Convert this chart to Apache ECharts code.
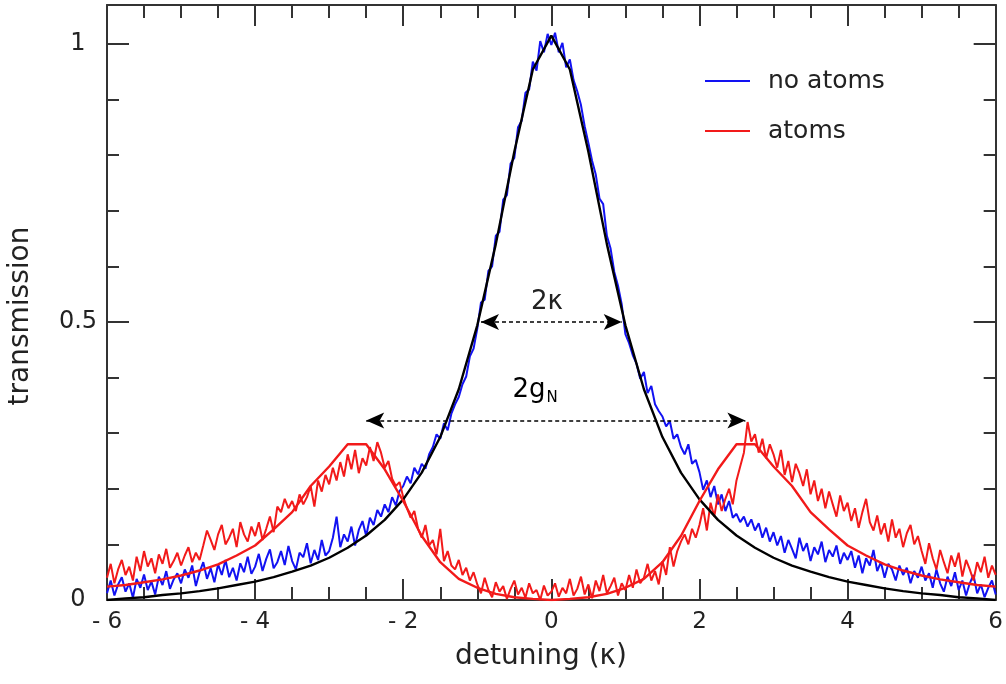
<!DOCTYPE html>
<html>
<head>
<meta charset="utf-8">
<script src="https://cdn.jsdelivr.net/npm/echarts@6/dist/echarts.min.js"></script>
<style>
  html, body { margin: 0; padding: 0; background: #fff; }
  #chart { width: 1006px; height: 684px; }
</style>
</head>
<body>
<div id="chart"></div>
<script>
// Measured cavity transmission vs. detuning (units of kappa), sampled every 0.05 from -6 to 6
const dataStart = -6;
const dataStep = 0.05;

const noAtoms = [
  0.012, 0.035, 0.008, 0.028, 0.041, 0.015, 0.030, 0.004, 0.038, 0.022, 0.046, 0.018, 0.033, 0.010, 0.042, 0.027, 0.052, 0.020, 0.037, 0.048,
  0.030, 0.055, 0.040, 0.062, 0.025, 0.050, 0.068, 0.038, 0.057, 0.032, 0.064, 0.045, 0.072, 0.041, 0.058, 0.035, 0.066, 0.050, 0.078, 0.047,
  0.060, 0.083, 0.052, 0.074, 0.091, 0.057, 0.068, 0.088, 0.063, 0.097, 0.070, 0.055, 0.085, 0.077, 0.102, 0.066, 0.090, 0.072, 0.108, 0.080,
  0.088, 0.112, 0.150, 0.095, 0.118, 0.105, 0.132, 0.098, 0.126, 0.142, 0.115, 0.148, 0.135, 0.162, 0.150, 0.172, 0.158, 0.185, 0.170, 0.196,
  0.205, 0.222, 0.210, 0.238, 0.226, 0.245, 0.236, 0.262, 0.275, 0.298, 0.290, 0.318, 0.305, 0.335, 0.352, 0.365, 0.388, 0.402, 0.438, 0.452,
  0.488, 0.535, 0.540, 0.592, 0.600, 0.655, 0.662, 0.720, 0.728, 0.785, 0.795, 0.850, 0.862, 0.912, 0.918, 0.968, 0.952, 1.005, 0.985, 1.018,
  0.998, 1.020, 0.985, 1.002, 0.958, 0.972, 0.935, 0.915, 0.890, 0.852, 0.822, 0.790, 0.765, 0.722, 0.712, 0.655, 0.632, 0.590, 0.565, 0.532,
  0.478, 0.462, 0.440, 0.425, 0.398, 0.410, 0.372, 0.385, 0.352, 0.340, 0.330, 0.312, 0.322, 0.290, 0.298, 0.275, 0.262, 0.280, 0.245, 0.252,
  0.230, 0.198, 0.215, 0.185, 0.205, 0.172, 0.190, 0.160, 0.178, 0.148, 0.155, 0.140, 0.150, 0.132, 0.145, 0.125, 0.138, 0.112, 0.130, 0.105,
  0.122, 0.098, 0.115, 0.085, 0.108, 0.092, 0.075, 0.112, 0.088, 0.102, 0.070, 0.095, 0.082, 0.105, 0.068, 0.090, 0.078, 0.098, 0.065, 0.085,
  0.072, 0.088, 0.058, 0.080, 0.048, 0.075, 0.062, 0.090, 0.052, 0.068, 0.040, 0.065, 0.055, 0.035, 0.062, 0.045, 0.058, 0.030, 0.052, 0.040,
  0.060, 0.035, 0.048, 0.022, 0.055, 0.030, 0.015, 0.042, 0.025, 0.050, 0.018, 0.035, 0.008, 0.030, 0.045, 0.012, 0.028, 0.005, 0.022, 0.035, 0.010
];

const withAtoms = [
  0.040, 0.065, 0.030, 0.055, 0.072, 0.045, 0.060, 0.035, 0.078, 0.052, 0.088, 0.060, 0.075, 0.048, 0.082, 0.065, 0.092, 0.058, 0.070, 0.085,
  0.062, 0.080, 0.095, 0.068, 0.085, 0.072, 0.098, 0.125, 0.108, 0.090, 0.118, 0.135, 0.100, 0.112, 0.128, 0.095, 0.140, 0.118, 0.105, 0.132,
  0.115, 0.140, 0.108, 0.128, 0.150, 0.122, 0.168, 0.158, 0.182, 0.165, 0.178, 0.160, 0.190, 0.172, 0.185, 0.205, 0.168, 0.215, 0.195, 0.225,
  0.208, 0.238, 0.215, 0.248, 0.222, 0.262, 0.235, 0.270, 0.228, 0.255, 0.242, 0.275, 0.250, 0.284, 0.265, 0.238, 0.250, 0.218, 0.205, 0.212,
  0.185, 0.165, 0.148, 0.160, 0.128, 0.112, 0.135, 0.098, 0.108, 0.082, 0.128, 0.070, 0.088, 0.062, 0.055, 0.072, 0.045, 0.058, 0.035, 0.050,
  0.028, 0.012, 0.040, 0.018, 0.005, 0.032, 0.015, 0.025, 0.002, 0.020, 0.035, 0.010, 0.022, 0.004, 0.030, 0.012, 0.018, 0.000, 0.026, 0.008,
  0.015, 0.030, 0.006, 0.022, 0.012, 0.038, 0.008, 0.020, 0.042, 0.010, 0.028, 0.003, 0.035, 0.016, 0.045, 0.012, 0.025, 0.040, 0.008, 0.030,
  0.018, 0.045, 0.022, 0.055, 0.030, 0.040, 0.065, 0.035, 0.052, 0.028, 0.070, 0.045, 0.095, 0.060, 0.088, 0.105, 0.118, 0.100, 0.128, 0.112,
  0.135, 0.165, 0.125, 0.175, 0.150, 0.190, 0.160, 0.182, 0.200, 0.172, 0.215, 0.240, 0.265, 0.320, 0.285, 0.298, 0.265, 0.290, 0.255, 0.280,
  0.262, 0.238, 0.270, 0.225, 0.250, 0.212, 0.245, 0.228, 0.205, 0.235, 0.190, 0.215, 0.178, 0.200, 0.165, 0.195, 0.172, 0.150, 0.188, 0.160,
  0.175, 0.142, 0.165, 0.130, 0.158, 0.182, 0.140, 0.125, 0.152, 0.118, 0.138, 0.105, 0.145, 0.112, 0.128, 0.095, 0.120, 0.135, 0.100, 0.115,
  0.088, 0.065, 0.102, 0.075, 0.055, 0.090, 0.068, 0.048, 0.080, 0.060, 0.085, 0.042, 0.072, 0.055, 0.035, 0.068, 0.050, 0.078, 0.040, 0.062, 0.045
];

// Fitted curves, sampled every 0.25 from -6 to 6
const fitStart = -6;
const fitStep = 0.25;

const emptyCavityFit = [
  0.000, 0.003, 0.005, 0.009, 0.012, 0.016, 0.021, 0.027, 0.033, 0.041, 0.051, 0.062,
  0.076, 0.094, 0.116, 0.144, 0.181, 0.229, 0.293, 0.379, 0.494, 0.640, 0.806, 0.954,
  1.015,
  0.954, 0.806, 0.640, 0.494, 0.379, 0.293, 0.229, 0.181, 0.144, 0.116, 0.094, 0.076,
  0.062, 0.051, 0.041, 0.033, 0.027, 0.021, 0.016, 0.012, 0.009, 0.005, 0.003, 0.000
];

const coupledFit = [
  0.024, 0.027, 0.032, 0.037, 0.044, 0.053, 0.064, 0.080, 0.098, 0.127, 0.158, 0.205,
  0.240, 0.280, 0.280, 0.235, 0.178, 0.115, 0.068, 0.038, 0.022, 0.011, 0.005, 0.002,
  0.000,
  0.002, 0.005, 0.011, 0.022, 0.038, 0.068, 0.115, 0.178, 0.235, 0.280, 0.280, 0.240,
  0.205, 0.158, 0.127, 0.098, 0.080, 0.064, 0.053, 0.044, 0.037, 0.032, 0.027, 0.024
];

// Width markers: [x from, x to, level]
const kappaArrow = [-0.95, 0.95, 0.5];
const gArrow = [-2.5, 2.62, 0.323];
// Annotation anchors: [x, y]
const kappaLabelAt = [-0.06, 0.535];
const gLabelAt = [-0.22, 0.378];

const xTicks = { min: -6, max: 6, major: 2, minorSplit: 4 };
const yTicks = { min: 0, max: 1.07, major: 0.5, minor: 0.1, labelled: [0, 0.5, 1] };

const COLORS = { blue: '#1212f2', red: '#f21a1a', fit: '#000000', axis: '#333333', text: '#222222' };
const FONT = 'DejaVu Sans';

const pairs = (start, step, values) =>
  values.map((v, i) => [+(start + i * step).toFixed(3), v]);

const chart = echarts.init(document.getElementById('chart'), null, { renderer: 'canvas' });

const xAxisBase = (position, showLabel) => ({
  type: 'value',
  position,
  min: xTicks.min,
  max: xTicks.max,
  interval: xTicks.major,
  axisLine: { show: true, onZero: false, lineStyle: { color: COLORS.axis, width: 2 } },
  axisTick: { show: true, inside: true, length: 21, lineStyle: { color: COLORS.axis, width: 2 } },
  minorTick: { show: true, splitNumber: xTicks.minorSplit, length: 13, lineStyle: { color: COLORS.axis, width: 2 } },
  splitLine: { show: false },
  minorSplitLine: { show: false },
  axisLabel: {
    show: showLabel,
    margin: 11,
    fontFamily: FONT,
    fontSize: 23,
    color: COLORS.text,
    formatter: v => (v < 0 ? '- ' + Math.abs(v) : String(v))
  }
});

const yAxisMajor = (position, showLabel) => ({
  type: 'value',
  position,
  min: yTicks.min,
  max: yTicks.max,
  interval: yTicks.major,
  axisLine: { show: true, onZero: false, lineStyle: { color: COLORS.axis, width: 2 } },
  axisTick: { show: true, inside: true, length: 22, lineStyle: { color: COLORS.axis, width: 2 } },
  splitLine: { show: false },
  axisLabel: {
    show: showLabel,
    margin: 29,
    align: 'center',
    fontFamily: FONT,
    fontSize: 24,
    color: COLORS.text,
    showMaxLabel: false,
    formatter: v => (yTicks.labelled.some(t => Math.abs(t - v) < 1e-6) ? String(v) : '')
  }
});

const yAxisMinor = position => ({
  type: 'value',
  position,
  min: yTicks.min,
  max: yTicks.max,
  interval: yTicks.minor,
  axisLine: { show: false, onZero: false },
  axisTick: { show: true, inside: true, length: 12, lineStyle: { color: COLORS.axis, width: 2 } },
  splitLine: { show: false },
  axisLabel: { show: false }
});

const option = {
  animation: false,
  backgroundColor: '#ffffff',
  grid: { left: 107, right: 9, top: 5, bottom: 84, containLabel: false },
  xAxis: [xAxisBase('bottom', true), xAxisBase('top', false)],
  yAxis: [yAxisMajor('left', true), yAxisMinor('left'), yAxisMajor('right', false), yAxisMinor('right')],
  legend: {
    left: 700,
    top: 61,
    orient: 'vertical',
    itemWidth: 45,
    itemHeight: 2,
    itemGap: 20,
    icon: 'rect',
    selectedMode: false,
    data: ['no atoms', 'atoms'],
    textStyle: { fontFamily: FONT, fontSize: 25, color: COLORS.text, lineHeight: 30, padding: [0, 0, 0, 13] }
  },
  series: [
    {
      name: 'no atoms',
      type: 'line',
      data: pairs(dataStart, dataStep, noAtoms),
      showSymbol: false,
      lineStyle: { color: COLORS.blue, width: 2 },
      itemStyle: { color: COLORS.blue },
      z: 2
    },
    {
      name: 'atoms',
      type: 'line',
      data: pairs(dataStart, dataStep, withAtoms),
      showSymbol: false,
      lineStyle: { color: COLORS.red, width: 2 },
      itemStyle: { color: COLORS.red },
      z: 3
    },
    {
      name: 'empty cavity fit',
      type: 'line',
      data: pairs(fitStart, fitStep, emptyCavityFit),
      showSymbol: false,
      lineStyle: { color: COLORS.fit, width: 2.4 },
      itemStyle: { color: COLORS.fit },
      z: 4,
      markLine: {
        silent: true,
        symbol: ['arrow', 'arrow'],
        symbolSize: [12, 18],
        label: { show: false },
        lineStyle: { color: '#000', width: 1.5, type: [4, 3] },
        emphasis: { disabled: true },
        data: [
          [{ coord: [kappaArrow[0], kappaArrow[2]] }, { coord: [kappaArrow[1], kappaArrow[2]] }],
          [{ coord: [gArrow[0], gArrow[2]] }, { coord: [gArrow[1], gArrow[2]] }]
        ]
      }
    },
    {
      name: 'coupled fit',
      type: 'line',
      data: pairs(fitStart, fitStep, coupledFit),
      showSymbol: false,
      lineStyle: { color: COLORS.red, width: 2.4 },
      itemStyle: { color: COLORS.red },
      z: 5
    }
  ]
};

chart.setOption(option);

// Axis titles and width annotations
const kPos = chart.convertToPixel({ xAxisIndex: 0, yAxisIndex: 0 }, kappaLabelAt);
const gPos = chart.convertToPixel({ xAxisIndex: 0, yAxisIndex: 0 }, gLabelAt);

chart.setOption({
  graphic: [
    {
      type: 'text',
      x: 541, y: 657,
      style: { text: 'detuning (κ)', font: '28px "DejaVu Sans"', fill: COLORS.text, align: 'center', verticalAlign: 'middle' }
    },
    {
      type: 'text',
      x: 21, y: 316,
      rotation: Math.PI / 2,
      style: { text: 'transmission', font: '28px "DejaVu Sans"', fill: COLORS.text, align: 'center', verticalAlign: 'middle' }
    },
    {
      type: 'text',
      x: kPos[0], y: kPos[1],
      style: { text: '2κ', font: '26px "DejaVu Sans"', fill: COLORS.text, align: 'center', verticalAlign: 'middle' }
    },
    {
      type: 'text',
      x: gPos[0], y: gPos[1],
      style: {
        text: '{m|2g}{s|N}',
        align: 'center',
        verticalAlign: 'middle',
        rich: {
          m: { fontFamily: FONT, fontSize: 26, color: COLORS.text, lineHeight: 32, verticalAlign: 'middle' },
          s: { fontFamily: FONT, fontSize: 15, color: COLORS.text, lineHeight: 32, verticalAlign: 'bottom', padding: [13, 0, 0, 1] }
        }
      }
    }
  ]
});
</script>
</body>
</html>
